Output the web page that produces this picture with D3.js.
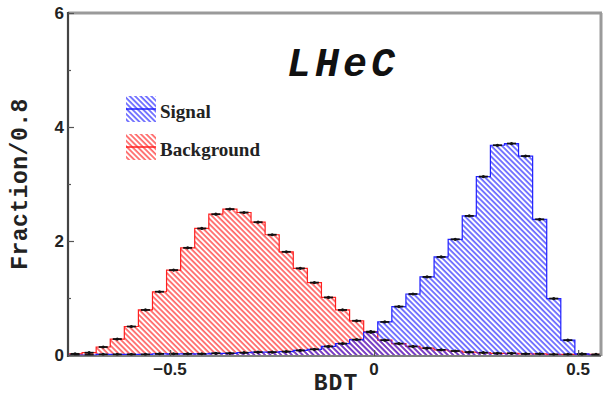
<!DOCTYPE html>
<html>
<head>
<meta charset="utf-8">
<script src="https://cdn.jsdelivr.net/npm/d3@7"></script>
<style>
  html, body { margin: 0; padding: 0; background: #fff; }
  svg { display: block; }
</style>
</head>
<body>
<div id="chart"></div>
<script>
// BDT response histograms (fraction per bin)
const binLow = -0.75;       // lower edge of first bin
const binWidth = 0.0345;    // bin width
const xDomain = [-0.75, 0.556];
const yDomain = [0, 6];
const xTicks = [-0.5, 0, 0.5];
const xTickLabels = ["\u22120.5", "0", "0.5"];
const yTicks = [0, 2, 4, 6];
const yTickLabels = ["0", "2", "4", "6"];
const yMinorTicks = [1, 3, 5];

const signalValues = [0.00, 0.00, 0.01, 0.01, 0.01, 0.01, 0.02, 0.02, 0.02, 0.02,
  0.03, 0.03, 0.04, 0.05, 0.05, 0.06, 0.08, 0.10, 0.15, 0.20,
  0.27, 0.40, 0.58, 0.85, 1.07, 1.37, 1.72, 2.03, 2.44, 3.13,
  3.68, 3.71, 3.49, 2.38, 0.99, 0.26, 0.02, 0.00];
const backgroundValues = [0.02, 0.04, 0.14, 0.28, 0.50, 0.79, 1.11, 1.49, 1.88, 2.22,
  2.47, 2.56, 2.50, 2.33, 2.11, 1.81, 1.52, 1.27, 1.01, 0.79,
  0.60, 0.41, 0.26, 0.20, 0.15, 0.12, 0.09, 0.07, 0.05, 0.04,
  0.03, 0.03, 0.02, 0.02, 0.01, 0.01, 0.01, 0.01];

const seriesNames = ["Signal", "Background"];
const seriesColors = ["#2020ff", "#ff2020"];

const W = 603, H = 400;
const frameL = 68, frameR = 601, frameT = 13, frameB = 356;

const svg = d3.select("#chart").append("svg").attr("width", W).attr("height", H);
const defs = svg.append("defs");

const x = d3.scaleLinear().domain(xDomain).range([frameL, frameR]);
const y = d3.scaleLinear().domain(yDomain).range([frameB - 1, frameT]);

// hatched fills
seriesColors.forEach((c, i) => {
  const p = defs.append("pattern")
    .attr("id", "hatch" + i)
    .attr("patternUnits", "userSpaceOnUse")
    .attr("width", 3.8).attr("height", 3.8)
    .attr("patternTransform", "rotate(-45)");
  p.append("line").attr("x1", 1).attr("y1", 0).attr("x2", 1).attr("y2", 3.8)
    .attr("stroke", c).attr("stroke-width", 1.5).attr("stroke-opacity", 0.8);
});

defs.append("clipPath").attr("id", "plotclip")
  .append("rect").attr("x", frameL).attr("y", frameT).attr("width", frameR - frameL).attr("height", frameB - frameT);

function stepPoints(values) {
  const pts = [];
  values.forEach((v, i) => {
    const a = binLow + i * binWidth, b = a + binWidth;
    pts.push({ x: a, v: v }, { x: b, v: v });
  });
  return pts;
}

const area = d3.area().x(d => x(d.x)).y0(y(0)).y1(d => y(d.v));
const line = d3.line().x(d => x(d.x)).y(d => y(d.v));

const plot = svg.append("g").attr("clip-path", "url(#plotclip)");
const allSeries = [signalValues, backgroundValues];

// background first, then signal
[1, 0].forEach(i => {
  const pts = stepPoints(allSeries[i]);
  plot.append("path").attr("d", area(pts)).attr("fill", "url(#hatch" + i + ")");
  plot.append("path").attr("d", line(pts)).attr("fill", "none")
    .attr("stroke", seriesColors[i]).attr("stroke-width", 1.2);
});

// per-bin markers
[1, 0].forEach(i => {
  plot.append("g").selectAll("line").data(allSeries[i]).join("line")
    .attr("x1", (v, k) => x(binLow + (k + 0.18) * binWidth))
    .attr("x2", (v, k) => x(binLow + (k + 0.82) * binWidth))
    .attr("y1", v => y(v)).attr("y2", v => y(v))
    .attr("stroke", "#111").attr("stroke-width", 1.8);
  plot.append("g").selectAll("circle").data(allSeries[i]).join("circle")
    .attr("cx", (v, k) => x(binLow + (k + 0.5) * binWidth))
    .attr("cy", v => y(v)).attr("r", 1.6).attr("fill", "#111");
});

// frame
svg.append("line").attr("x1", frameL).attr("x2", frameR + 1).attr("y1", frameT).attr("y2", frameT)
  .attr("stroke", "#9a9a9a").attr("stroke-width", 3);
svg.append("line").attr("x1", frameR).attr("x2", frameR).attr("y1", frameT).attr("y2", frameB)
  .attr("stroke", "#9a9a9a").attr("stroke-width", 3);
svg.append("line").attr("x1", frameL).attr("x2", frameL).attr("y1", frameT - 1).attr("y2", frameB + 1)
  .attr("stroke", "#444").attr("stroke-width", 2.2);
svg.append("line").attr("x1", frameL).attr("x2", frameR).attr("y1", frameB).attr("y2", frameB)
  .attr("stroke", "#555").attr("stroke-width", 1.6);

// y axis ticks (inside)
const yAxis = d3.axisRight(y).tickValues(yTicks).tickSize(6).tickFormat("");
svg.append("g").attr("transform", `translate(${frameL},0)`).call(yAxis)
  .call(g => g.select(".domain").remove())
  .call(g => g.selectAll("line").attr("stroke", "#555").attr("stroke-width", 1.2));
const yMinor = d3.axisRight(y).tickValues(yMinorTicks).tickSize(3).tickFormat("");
svg.append("g").attr("transform", `translate(${frameL},0)`).call(yMinor)
  .call(g => g.select(".domain").remove())
  .call(g => g.selectAll("line").attr("stroke", "#555").attr("stroke-width", 1.2));

svg.append("g").selectAll("text").data(yTicks).join("text")
  .attr("x", frameL - 4).attr("y", d => y(d) + 6)
  .attr("text-anchor", "end")
  .attr("font-family", "Liberation Sans, Arial, sans-serif")
  .attr("font-weight", "bold").attr("font-size", 17).attr("fill", "#222")
  .text((d, i) => yTickLabels[i]);

// x axis ticks (inside) and labels
const xAxis = d3.axisTop(x).tickValues(xTicks).tickSize(6).tickFormat("");
svg.append("g").attr("transform", `translate(0,${frameB})`).call(xAxis)
  .call(g => g.select(".domain").remove())
  .call(g => g.selectAll("line").attr("stroke", "#555").attr("stroke-width", 1.2));

svg.append("g").selectAll("text").data(xTicks).join("text")
  .attr("x", d => x(d)).attr("y", frameB + 19)
  .attr("text-anchor", "middle")
  .attr("font-family", "Liberation Sans, Arial, sans-serif")
  .attr("font-weight", "bold").attr("font-size", 17).attr("fill", "#222")
  .text((d, i) => xTickLabels[i]);

// axis titles
svg.append("text").attr("x", 336).attr("y", 390).attr("text-anchor", "middle")
  .attr("font-family", "Courier New, Liberation Mono, monospace")
  .attr("font-weight", "bold").attr("font-size", 23).attr("letter-spacing", 1).attr("fill", "#222")
  .text("BDT");
svg.append("text").attr("transform", "translate(27,184) rotate(-90)").attr("text-anchor", "middle")
  .attr("font-family", "Courier New, Liberation Mono, monospace")
  .attr("font-weight", "bold").attr("font-size", 23).attr("letter-spacing", 0.5).attr("fill", "#222")
  .text("Fraction/0.8");

// experiment label
svg.append("text").attr("x", 343).attr("y", 76).attr("text-anchor", "middle")
  .attr("font-family", "Courier New, Liberation Mono, monospace")
  .attr("font-weight", "bold").attr("font-style", "italic").attr("font-size", 40)
  .attr("letter-spacing", 4).attr("fill", "#111")
  .text("LHeC");

// legend
const legendTop = [96, 134];
seriesNames.forEach((name, i) => {
  const g = svg.append("g");
  g.append("rect").attr("x", 126).attr("y", legendTop[i]).attr("width", 30).attr("height", 26)
    .attr("fill", "url(#hatch" + i + ")");
  g.append("line").attr("x1", 126).attr("x2", 156)
    .attr("y1", legendTop[i] + 13).attr("y2", legendTop[i] + 13)
    .attr("stroke", seriesColors[i]).attr("stroke-width", 1.5);
  g.append("text").attr("x", 160).attr("y", legendTop[i] + 22)
    .attr("font-family", "Liberation Serif, Times New Roman, serif")
    .attr("font-weight", "bold").attr("font-size", 19).attr("fill", "#222")
    .text(name);
});
</script>
</body>
</html>
